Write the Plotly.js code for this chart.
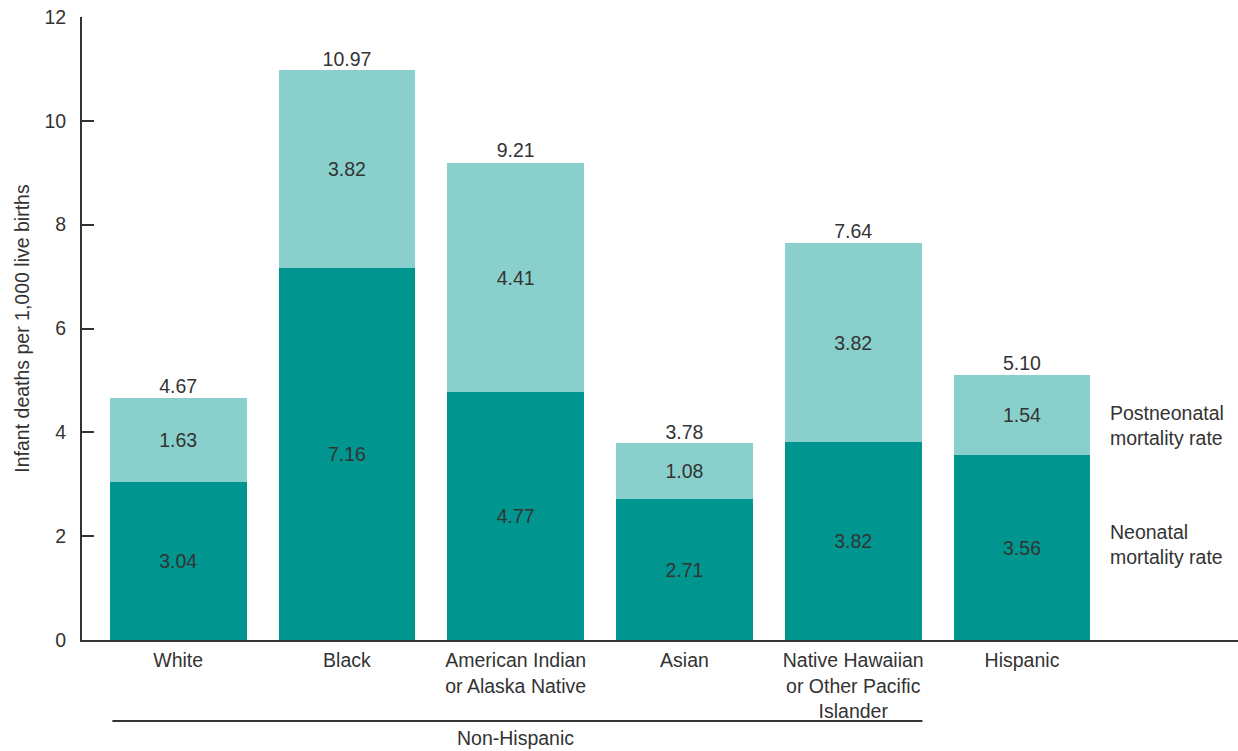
<!DOCTYPE html>
<html>
<head>
<meta charset="utf-8">
<script src="https://cdn.plot.ly/plotly-3.0.1.min.js"></script>
<style>html,body{margin:0;padding:0;background:#fff;}#chart{width:1238px;height:751px;}</style>
</head>
<body>
<div id="chart"></div>
<script>
const categories = ["White", "Black", "American Indian<br>or Alaska Native", "Asian", "Native Hawaiian<br>or Other Pacific<br>Islander", "Hispanic"];
const neonatal = [3.04, 7.16, 4.77, 2.71, 3.82, 3.56];
const postneonatal = [1.63, 3.82, 4.41, 1.08, 3.82, 1.54];
const totals = [4.67, 10.97, 9.21, 3.78, 7.64, 5.10];
const yTicks = [0, 2, 4, 6, 8, 10, 12];
const groupLabel = "Non-Hispanic";
const seriesNames = ["Neonatal<br>mortality rate", "Postneonatal<br>mortality rate"];

const idx = categories.map((c, i) => i);
const txtColor = "#333333";
const fontFam = "Liberation Sans, Arial, sans-serif";
const darkTeal = "#00968f";
const lightTeal = "#89d0cc";
const fs = 19.5;

const traces = [
  {
    type: "bar", x: idx, y: neonatal, name: "Neonatal",
    marker: {color: darkTeal},
    text: neonatal.map(v => v.toFixed(2)), textposition: "inside", insidetextanchor: "middle",
    textangle: 0, textfont: {color: txtColor, size: fs, family: fontFam},
    hoverinfo: "none"
  },
  {
    type: "bar", x: idx, y: postneonatal, name: "Postneonatal",
    marker: {color: lightTeal},
    text: postneonatal.map(v => v.toFixed(2)), textposition: "inside", insidetextanchor: "middle",
    textangle: 0, textfont: {color: txtColor, size: fs, family: fontFam},
    hoverinfo: "none"
  },
  {
    type: "scatter", mode: "text", x: idx, y: totals,
    text: totals.map(v => v.toFixed(2)), textposition: "top center",
    textfont: {color: txtColor, size: fs, family: fontFam},
    hoverinfo: "none", showlegend: false
  }
];

const last = idx.length - 1;
const layout = {
  width: 1238, height: 751,
  margin: {l: 82, r: 0, t: 17, b: 111},
  barmode: "stack", bargap: 0.19,
  showlegend: false,
  paper_bgcolor: "#fff", plot_bgcolor: "#fff",
  font: {family: fontFam, color: txtColor, size: fs},
  xaxis: {
    range: [-0.57, 6.28], tickvals: idx, ticktext: categories,
    showline: true, linecolor: "#333", linewidth: 2, ticks: "",
    showgrid: false, zeroline: false, tickfont: {size: fs, color: txtColor},
    ticklabelstandoff: 2
  },
  yaxis: {
    range: [0, 12], tickvals: yTicks, ticktext: yTicks.map(String),
    showline: true, linecolor: "#333", linewidth: 2,
    ticks: "inside", ticklen: 12, tickwidth: 2, tickcolor: "#333",
    showgrid: false, zeroline: false, tickfont: {size: fs, color: txtColor},
    ticklabelstandoff: 10,
    title: {text: "Infant deaths per 1,000 live births", font: {size: fs, color: txtColor}, standoff: 10}
  },
  shapes: [
    {type: "line", xref: "x", yref: "paper", x0: -0.39, x1: 4.41, y0: -0.13, y1: -0.13,
     line: {color: "#333", width: 2}}
  ],
  annotations: [
    {xref: "x", yref: "paper", x: 2, y: -0.157, text: groupLabel, showarrow: false,
     font: {size: fs, color: txtColor}, xanchor: "center", yanchor: "middle"},
    {xref: "x", yref: "y", x: 5.51, y: (neonatal[last] + totals[last]) / 2 - 0.2, text: seriesNames[1], showarrow: false,
     align: "left", xanchor: "left", yanchor: "middle", font: {size: fs, color: txtColor}},
    {xref: "x", yref: "y", x: 5.51, y: neonatal[last] / 2 + 0.05, text: seriesNames[0], showarrow: false,
     align: "left", xanchor: "left", yanchor: "middle", font: {size: fs, color: txtColor}}
  ]
};

Plotly.newPlot("chart", traces, layout, {displayModeBar: false, staticPlot: true});
</script>
</body>
</html>
